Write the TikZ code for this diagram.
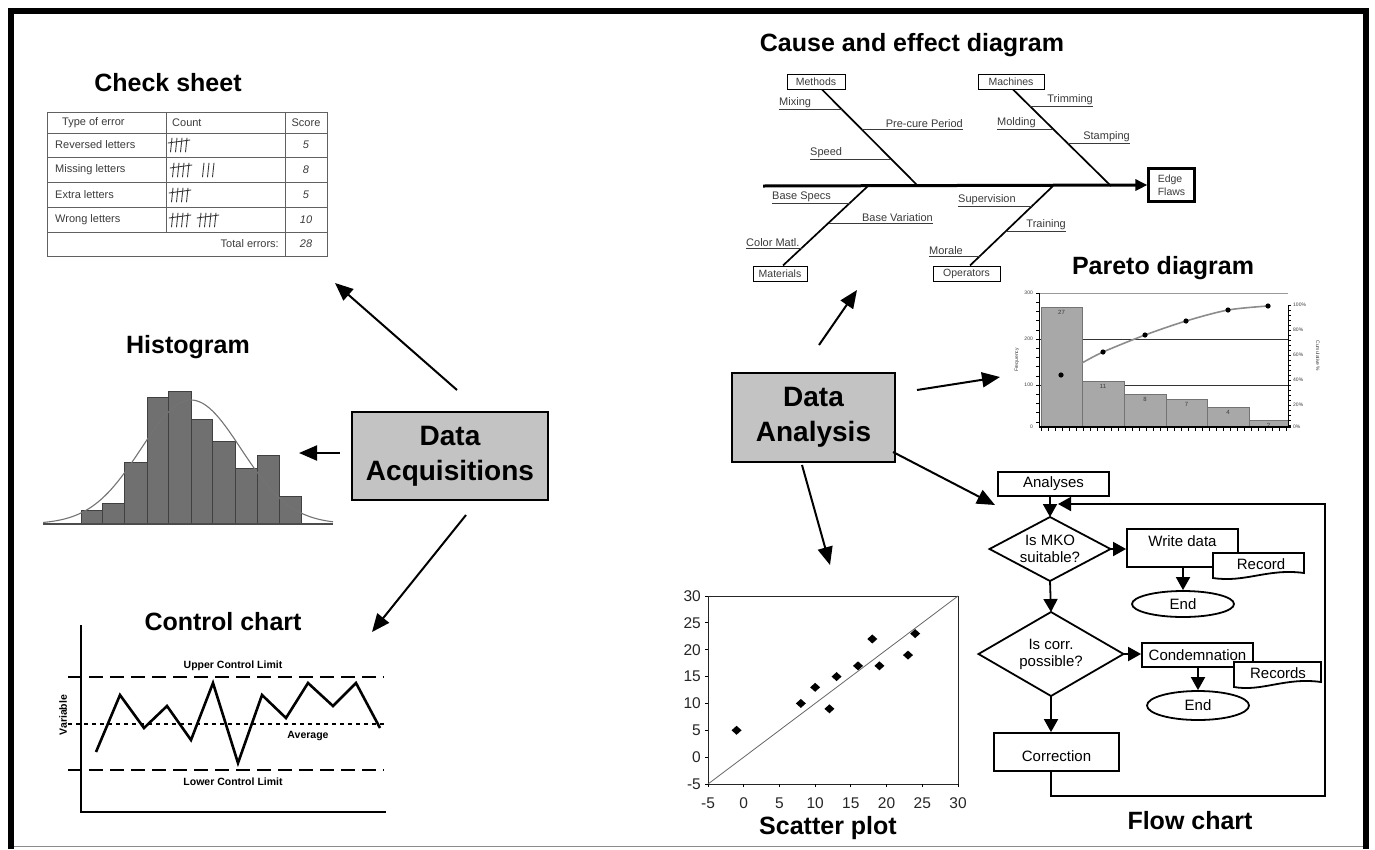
\documentclass[tikz,border=0pt]{standalone}
\usepackage{fontspec}
\setmainfont{Liberation Sans}
\usetikzlibrary{arrows.meta,shapes.geometric,calc}
\definecolor{hubgray}{HTML}{C3C3C3}
\definecolor{histbar}{HTML}{707070}
\definecolor{parbar}{HTML}{A8A8A8}
\definecolor{inkgray}{HTML}{3A3A3A}
\begin{document}
\begin{tikzpicture}[x=1pt,y=-1pt,
  ttl/.style={font=\fontsize{25}{27}\selectfont\bfseries, inner sep=0pt},
  hub/.style={draw=black, line width=2pt, fill=hubgray, align=center, inner sep=0pt,
    font=\fontsize{28}{35}\selectfont\bfseries},
  bigarr/.style={line width=2pt, -{Triangle[length=18pt,width=15pt]}},
  tbl/.style={draw=inkgray!80, line width=0.8pt},
  tbltext/.style={font=\fontsize{11}{12}\selectfont, text=inkgray, inner sep=0pt},
  tallystroke/.style={line width=0.9pt, draw=inkgray, line cap=round},
  pics/tallyfive/.style={code={
    \draw[tallystroke] (1,-7) -- (-0.5,7) (6,-7) -- (4.5,7) (11,-7) -- (9.5,7) (16,-7) -- (14.5,7);
    \draw[tallystroke] (-3,-2) -- (19,-5);}},
  pics/tallyone/.style={code={\draw[tallystroke] (1,-7) -- (-0.5,7);}},
  histbox/.style={fill=histbar, draw=black!75, line width=0.7pt},
  cclabel/.style={font=\fontsize{10.5}{12}\selectfont\bfseries, inner sep=0pt},
  limitline/.style={line width=1.6pt, dash pattern=on 14pt off 7pt},
  csbox/.style={draw=black, line width=1pt, inner sep=0pt, minimum height=15pt,
    font=\fontsize{10.5}{12}\selectfont, text=inkgray},
  bone/.style={line width=1.7pt},
  cause/.style={font=\fontsize{11}{12}\selectfont, text=inkgray, inner sep=0pt, outer ysep=1.5pt},
  causeline/.style={line width=0.8pt, draw=inkgray},
  parbox/.style={fill=parbar, draw=black!55, line width=0.6pt},
  tiny/.style={font=\fontsize{5}{6}\selectfont, text=inkgray, inner sep=0pt},
  fbox/.style={draw=black, line width=1.8pt, fill=white, inner sep=0pt},
  ftxt/.style={font=\fontsize{15}{17}\selectfont, align=center, inner sep=0pt},
  farr/.style={line width=1.8pt, -{Triangle[length=13pt,width=14pt]}},
  sctext/.style={font=\fontsize{15.5}{16}\selectfont, text=black!85, inner sep=0pt}
]
\useasboundingbox (0,0) rectangle (1375,849);

% outer frame
\draw[line width=6pt] (11,849) -- (11,11) -- (1366,11) -- (1366,849);
\draw[black!45, line width=1pt] (14,846.5) -- (1363,846.5);

% ---------------- check sheet ----------------
\node[ttl] (tcheck) at (168,83) {Check sheet};
\draw[tbl] (47,112) rectangle (327,256);
\foreach \yy in {133,157,182,207,232} \draw[tbl] (47,\yy) -- (327,\yy);
\draw[tbl] (166,112) -- (166,232);
\draw[tbl] (285,112) -- (285,256);
\node[tbltext, anchor=west] (h1) at (62,122.5) {Type of error};
\node[tbltext, anchor=west] (h2) at (172,122.5) {Count};
\node[tbltext] (h3) at (306,122.5) {Score};
\node[tbltext, anchor=west] (r1) at (55,145) {Reversed letters};
\node[tbltext, anchor=west] (r2) at (55,169.5) {Missing letters};
\node[tbltext, anchor=west] (r3) at (55,194.5) {Extra letters};
\node[tbltext, anchor=west] (r4) at (55,219.5) {Wrong letters};
\node[tbltext, font=\fontsize{11}{12}\selectfont\itshape] (s1) at (306,145) {5};
\node[tbltext, font=\fontsize{11}{12}\selectfont\itshape] (s2) at (306,169.5) {8};
\node[tbltext, font=\fontsize{11}{12}\selectfont\itshape] (s3) at (306,194.5) {5};
\node[tbltext, font=\fontsize{11}{12}\selectfont\itshape] (s4) at (306,219.5) {10};
\node[tbltext, anchor=east] (tot) at (279,244) {Total errors:};
\node[tbltext, font=\fontsize{11}{12}\selectfont\itshape] (s5) at (306,244) {28};
\pic at (171,145) {tallyfive};
\pic at (173,170) {tallyfive};
\foreach \xx in {203,208,213} \pic at (\xx,170) {tallyone};
\pic at (172,195) {tallyfive};
\pic at (172,220) {tallyfive};
\pic at (200,220) {tallyfive};

% ---------------- histogram ----------------
\node[ttl] (thist) at (188,347) {Histogram};
\foreach \a/\b/\t in {81/102/510, 102/124/503, 124/147/462, 147/168/397, 168/191/391,
                      191/212/419, 212/235/441, 235/257/468, 257/279/455, 279/301/496}
  \draw[histbox] (\a,524) rectangle (\b,\t);
\draw[black!70, line width=1.6pt] (43,524) -- (333,524);
\draw[black!55, line width=1.1pt, domain=43:333, samples=90]
  plot (\x, {524-124*exp(-0.5*((\x-191)/50)^2)});

% ---------------- control chart ----------------
\node[ttl] (tctrl) at (223,622) {Control chart};
\draw[line width=1.6pt] (81,625) -- (81,812) -- (386,812);
\draw[limitline] (68,677) -- (384,677);
\draw[limitline] (68,770) -- (384,770);
\draw[line width=1.2pt, dash pattern=on 4pt off 4pt] (68,724) -- (384,724);
\node[cclabel] (ucl) at (233,666) {Upper Control Limit};
\node[cclabel] (avg) at (308,736) {Average};
\node[cclabel] (lcl) at (233,782) {Lower Control Limit};
\node[cclabel, rotate=90] (var) at (63,715) {Variable};
\draw[line width=2.6pt, line join=miter] (96,752) -- (120,695) -- (144,728) -- (167,706) -- (191,740)
  -- (213,683) -- (238,763) -- (262,695) -- (286,718) -- (308,683) -- (333,706) -- (356,683) -- (380,728);

% ---------------- data acquisitions hub ----------------
\node[hub, minimum width=196pt, minimum height=88pt] (acq) at (450,456) {Data\\Acquisitions};
\coordinate (acqN) at (457,390);
\coordinate (acqW) at (340,453);
\coordinate (acqS) at (466,515);
\coordinate (toCheck) at (335,283);
\coordinate (toHist) at (299,453);
\coordinate (toCtrl) at (372,632);
\draw[bigarr] (acqN) -- (toCheck);
\draw[bigarr] (acqW) -- (toHist);
\draw[bigarr] (acqS) -- (toCtrl);

% ---------------- cause and effect diagram ----------------
\node[ttl] (tce) at (912,45) {Cause and effect diagram};
\node[draw=black, line width=2.2pt, inner sep=0pt, minimum width=46pt, minimum height=33pt,
      font=\fontsize{10.5}{13}\selectfont, align=left, text=inkgray] (edge) at (1171.5,185) {Edge\\Flaws};
\draw[line width=3pt, -{Triangle[length=12pt,width=11pt]}] (763,186) -- (edge.west);
\node[csbox, minimum width=58pt] (meth) at (816,81.5) {Methods};
\node[csbox, minimum width=66pt] (mach) at (1011,81.5) {Machines};
\node[csbox, minimum width=54pt] (matl) at (780,273.5) {Materials};
\node[csbox, minimum width=67pt] (oper) at (966.5,273.5) {Operators};
\coordinate (jMeth) at (918,186);
\coordinate (jMach) at (1111,186);
\coordinate (jMatl) at (868,186);
\coordinate (jOper) at (1053,186);
\draw[bone] ($(meth.south)+(6,0)$) -- (jMeth);
\draw[bone] ($(mach.south)+(2,0)$) -- (jMach);
\draw[bone] (jMatl) -- ($(matl.north)+(3,0)$);
\draw[bone] (jOper) -- ($(oper.north)+(3.5,0)$);
% causes written left of their bone
\foreach \txt/\xa/\xb/\yy [count=\i] in {Mixing/779/841.8/109, Speed/810/891.3/159, Molding/997/1053.4/129,
    Base Specs/772/849.9/203, Color Matl./746/802.1/248, Supervision/958/1032.3/206, Morale/929/980.4/256}{
  \node[cause, anchor=south west] (cl\i) at (\xa,\yy) {\txt};
  \draw[causeline] (\xa,\yy) -- (\xb,\yy);
}
% causes written right of their bone
\foreach \txt/\xa/\xb/\yy [count=\i] in {Pre-cure Period/861.6/963/129, Trimming/1030.2/1093/106,
    Stamping/1067.5/1130/143, Base Variation/828.7/933/223, Training/1006.3/1066/231}{
  \node[cause, anchor=south east] (cr\i) at (\xb,\yy) {\txt};
  \draw[causeline] (\xa,\yy) -- (\xb,\yy);
}

% ---------------- pareto diagram ----------------
\node[ttl] (tpar) at (1163,268) {Pareto diagram};
\draw[black!40, line width=1pt] (1039,293) -- (1288,293);
\draw[black!80, line width=0.9pt] (1039,339) -- (1288,339);
\draw[black!80, line width=0.9pt] (1039,385) -- (1288,385);
\foreach \a/\b/\t/\n in {1041/1082/307/27, 1082/1124/381/11, 1124/1166/394/8,
                         1166/1207/399/7, 1207/1249/407/4, 1249/1288/420/2}{
  \draw[parbox] (\a,427) rectangle (\b,\t);
  \node[tiny, font=\fontsize{6}{7}\selectfont] (pb\n) at ({(\a+\b)/2},{\t+5}) {\n};
}
\draw[line width=1pt] (1039,293) -- (1039,427);
\draw[line width=1pt] (1288,305) -- (1288,427);
\draw[line width=1.3pt] (1039,427) -- (1291,427);
\foreach \xx in {1041,1048,...,1288} \draw[line width=0.6pt] (\xx,427) -- (\xx,431);
\foreach \yy in {293,302.2,...,427} \draw[line width=0.5pt] (1036,\yy) -- (1039,\yy);
\foreach \yy in {305,310,...,427} \draw[line width=0.5pt] (1288,\yy) -- (1291,\yy);
\draw[black!45, line width=1.6pt] plot[smooth] coordinates
  {(1082,363) (1103,352) (1145,335) (1186,321) (1228,310) (1268,306)};
\foreach \xx/\yy in {1061/375, 1103/352, 1145/335, 1186/321, 1228/310, 1268/306}
  \fill (\xx,\yy) circle (2.6pt);
\foreach \yy/\lab in {293/300, 339/200, 385/100, 427/0}
  \node[tiny, anchor=east] (pl\lab) at (1033,\yy) {\lab};
\foreach \yy/\lab in {305/100, 330/80, 355/60, 380/40, 405/20, 427/0}
  \node[tiny, anchor=west] (pr\lab) at (1293,\yy) {\lab\%};
\node[tiny, rotate=90] (pfreq) at (1017,360) {Frequency};
\node[tiny, rotate=-90] (pcum) at (1318,356) {Cumulative \%};

% ---------------- data analysis hub ----------------
\node[hub, minimum width=163pt, minimum height=89pt] (ana) at (813.5,417.5) {Data\\Analysis};
\coordinate (anaN) at (819,345);
\coordinate (anaE) at (917,390);
\coordinate (anaSE) at (893,452);
\coordinate (anaS) at (802,465);
\coordinate (toCE) at (857,290);
\coordinate (toPar) at (1000,377);
\coordinate (toFlow) at (995,505);
\coordinate (toScat) at (830,565);
\draw[bigarr] (anaN) -- (toCE);
\draw[bigarr] (anaE) -- (toPar);
\draw[bigarr] (anaSE) -- (toFlow);
\draw[bigarr] (anaS) -- (toScat);

% ---------------- flow chart ----------------
\node[fbox, minimum width=111pt, minimum height=24pt, ftxt] (fana) at (1053.5,484) {Analyses};
\node[ftxt] (d1) at (1050,549) {Is MKO\\suitable?};
\draw[line width=1.8pt, line join=miter] ($(d1)+(-60.5,0)$) coordinate (d1w) -- ($(d1)+(0,-32)$) coordinate (d1n)
  -- ($(d1)+(60.5,0)$) coordinate (d1e) -- ($(d1)+(0,32)$) coordinate (d1s) -- cycle;
\node[ftxt] (d2) at (1051,654) {Is corr.\\possible?};
\draw[line width=1.8pt, line join=miter] ($(d2)+(-72.5,0)$) coordinate (d2w) -- ($(d2)+(0,-42)$) coordinate (d2n)
  -- ($(d2)+(72.5,0)$) coordinate (d2e) -- ($(d2)+(0,42)$) coordinate (d2s) -- cycle;
% write data with its record
\node[fbox, minimum width=111pt, minimum height=38pt] (wd) at (1182.5,548) {};
\node[ftxt] (wdt) at (1182.5,541) {Write data};
\draw[line width=1.8pt, fill=white] (1213,553) coordinate (recnw) -- (1213,578)
  .. controls (1245,583) and (1268,568) .. (1304,573) -- (1304,553) -- cycle;
\node[ftxt] (rec) at (1261,564) {Record};
\node[fbox, ellipse, minimum width=102pt, minimum height=26pt, ftxt] (end1) at (1183,604) {End};
% condemnation with its records
\node[fbox, minimum width=111pt, minimum height=24pt, ftxt] (cond) at (1197.5,655) {Condemnation};
\draw[line width=1.8pt, fill=white] (1234,662) -- (1234,687)
  .. controls (1262,692) and (1285,677) .. (1321,682) -- (1321,662) -- cycle;
\node[ftxt] (recs) at (1278,673) {Records};
\node[fbox, ellipse, minimum width=102pt, minimum height=29pt, ftxt] (end2) at (1198,705.5) {End};
\node[fbox, minimum width=125pt, minimum height=38pt] (corr) at (1056.5,752) {};
\node[ftxt] (corrt) at (1056.5,756) {Correction};
% flow connectors
\draw[farr] (d1n |- fana.south) -- (d1n);
\draw[farr] (d1e) -- (d1e -| wd.west);
\draw[farr] (d1s) -- (d2n);
\draw[farr] (d2e) -- (d2e -| cond.west);
\draw[farr] (d2s) -- (d2s |- corr.north);
\draw[farr] (end1.north |- wd.south) -- (end1.north);
\draw[farr] (end2.north |- cond.south) -- (end2.north);
\coordinate (loopc) at (1325,796);
\coordinate (loopin) at (1058,504);
\draw[farr] (d2s |- corr.south) |- (loopc) |- (loopin);
\node[ttl] (tflow) at (1190,821) {Flow chart};

% ---------------- scatter plot ----------------
\begin{scope}[shift={(743.714,757.143)}, x=7.1429pt, y=5.3714pt]
  \draw[black!85, line width=0.9pt] (-5,-5) rectangle (30,30);
  \draw[black!60, line width=0.8pt] (-5,-5) -- (30,30);
  \foreach \v in {-5,0,...,30}{
    \draw[line width=0.8pt] (-5,\v) -- ++(-3pt,0);
    \draw[line width=0.8pt] (\v,-5) -- ++(0,-3pt);
    \node[sctext, anchor=east] (sy\v) at ([xshift=-7pt]-5,\v) {\v};
    \node[sctext, anchor=base] (sx\v) at ([yshift=-24.5pt]\v,-5) {\v};
  }
  \foreach \a/\b in {-1/5, 8/10, 10/13, 12/9, 13/15, 16/17, 18/22, 19/17, 23/19, 24/23}
    \fill (\a,\b) ++(-5pt,0) -- ++(5pt,4.5pt) -- ++(5pt,-4.5pt) -- ++(-5pt,-4.5pt) -- cycle;
\end{scope}
\node[ttl] (tscat) at (828,828) {Scatter plot};
\end{tikzpicture}
\end{document}
